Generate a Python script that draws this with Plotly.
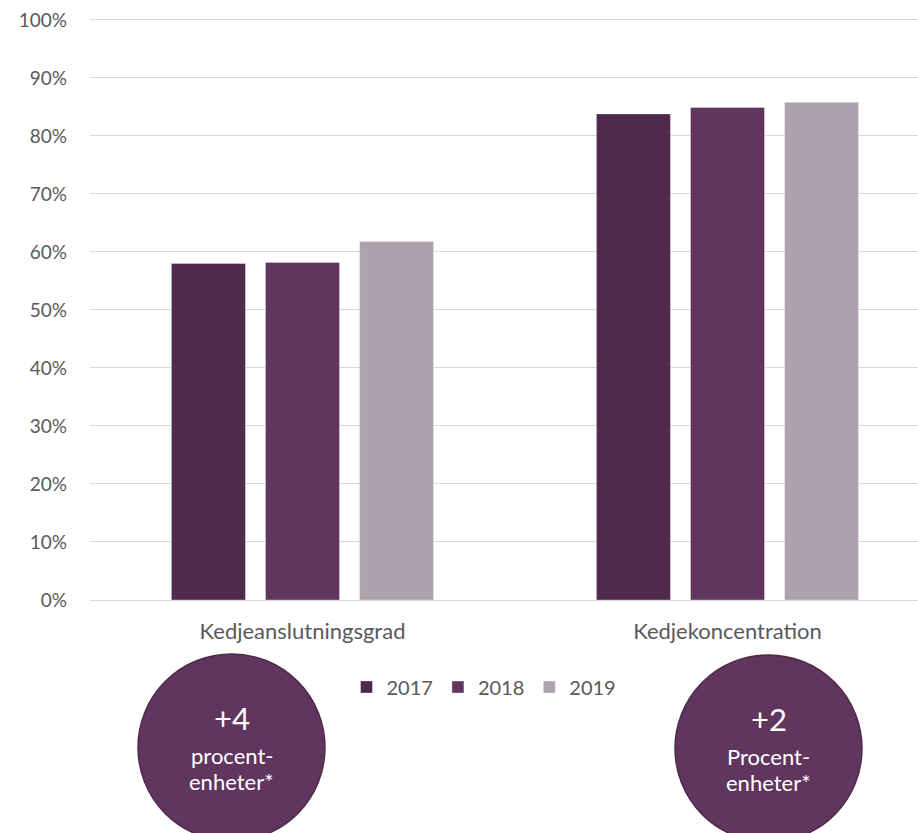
import plotly.graph_objects as go

categories = ["Kedjeanslutningsgrad", "Kedjekoncentration"]
years = ["2017", "2018", "2019"]
values = {
    "2017": [58.0, 83.8],
    "2018": [58.2, 84.9],
    "2019": [61.8, 85.8],
}
colors = {"2017": "#4F2A4B", "2018": "#61365E", "2019": "#ADA2AD"}
y_ticks = [0, 10, 20, 30, 40, 50, 60, 70, 80, 90, 100]
y_tick_labels = [f"{v}%" for v in y_ticks]
badge_big = ["+4", "+2"]
badge_small = [["procent-", "enheter*"], ["Procent-", "enheter*"]]

W, H = 918, 833
L, R, T, B = 90, 0, 17, 233
PW = W - L - R
PH = H - T - B

def px(x):
    return (x - L) / PW

def py(y):
    return (H - B - y) / PH

FONT = "Lato"

fig = go.Figure()
xpos = list(range(len(categories)))
for yr in years:
    fig.add_trace(go.Bar(
        name=yr, x=xpos, y=values[yr],
        marker=dict(color=colors[yr], line=dict(color="rgba(255,255,255,0.35)", width=1)),
        hoverinfo="skip",
    ))

cat_px = 425.0
right_units = -0.5 + PW / cat_px

fig.update_layout(
    width=W, height=H,
    margin=dict(l=L, r=R, t=T, b=B, pad=0, autoexpand=False),
    paper_bgcolor="white", plot_bgcolor="white",
    barmode="group", bargap=0.336, bargroupgap=0.213,
    font=dict(family=FONT, color="#595959"),
    showlegend=True,
    legend=dict(orientation="h", x=px(484), xanchor="center", y=py(687), yanchor="middle",
                font=dict(size=20, color="#595959"), traceorder="normal",
                itemwidth=30, tracegroupgap=0),
    xaxis=dict(range=[-0.5, right_units], tickvals=xpos, ticktext=categories,
               showgrid=False, zeroline=False, showline=False, ticks="", automargin=False,
               tickfont=dict(size=22, color="#595959"), ticklabelstandoff=16),
    yaxis=dict(range=[0, 100.5], tickvals=y_ticks, ticktext=y_tick_labels, automargin=False,
               showgrid=True, gridcolor="#D9D9D9", gridwidth=1,
               zeroline=True, zerolinecolor="#D9D9D9", zerolinewidth=1,
               showline=False, ticks="", tickfont=dict(size=19, color="#595959"),
               ticklabelstandoff=22),
)

circles = [(231.5, 747.5), (768.5, 748.5)]
r = 93.5
for i, (cx, cy) in enumerate(circles):
    fig.add_shape(type="circle", xref="paper", yref="paper",
                  x0=px(cx - r), x1=px(cx + r), y0=py(cy + r), y1=py(cy - r),
                  fillcolor="#61365E", line=dict(color="#4F2A4B", width=1.5), layer="above")
    fig.add_annotation(xref="paper", yref="paper", x=px(cx), y=py(cy - 30),
                       xanchor="center", yanchor="middle",
                       text=badge_big[i], showarrow=False,
                       font=dict(size=31, color="white", family=FONT))
    fig.add_annotation(xref="paper", yref="paper", x=px(cx), y=py(cy + 8),
                       xanchor="center", yanchor="middle",
                       text=badge_small[i][0], showarrow=False,
                       font=dict(size=22, color="white", family=FONT))
    fig.add_annotation(xref="paper", yref="paper", x=px(cx), y=py(cy + 34),
                       xanchor="center", yanchor="middle",
                       text=badge_small[i][1], showarrow=False,
                       font=dict(size=22, color="white", family=FONT))

fig.write_html("out.html", config={"displayModeBar": False},
               post_script="document.body.style.margin='0';")
